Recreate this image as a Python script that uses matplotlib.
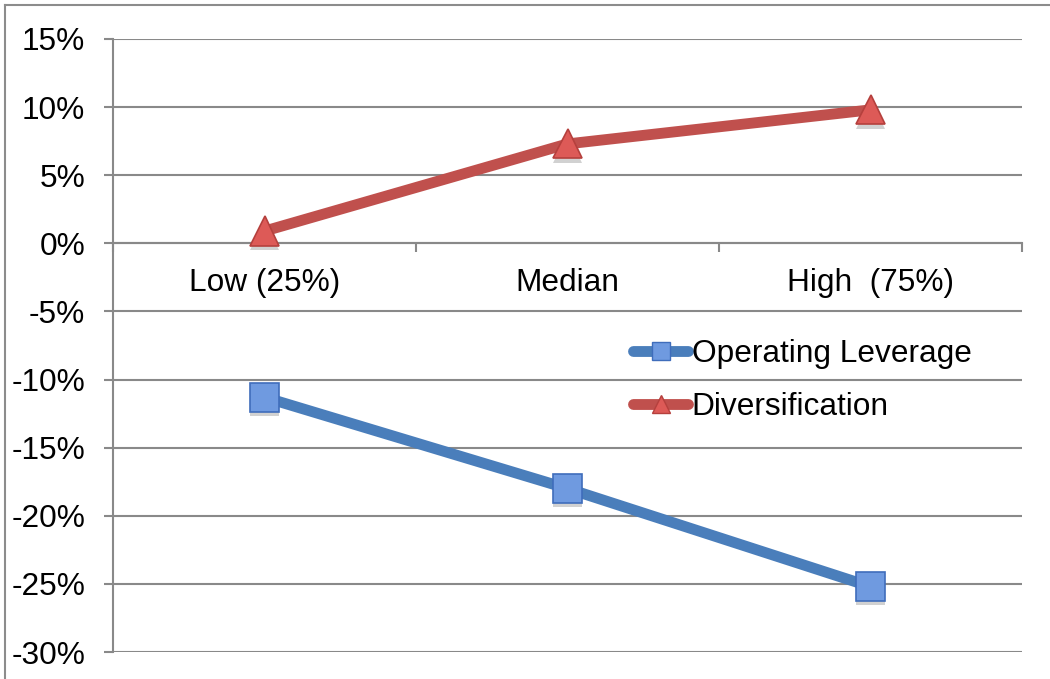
import matplotlib
matplotlib.use("Agg")
import matplotlib.pyplot as plt
from matplotlib.lines import Line2D
import matplotlib.patheffects as pe

# Data
categories = ["Low (25%)", "Median", "High  (75%)"]
operating_leverage = [-11.3, -18.0, -25.2]
diversification = [0.9, 7.3, 9.8]
y_ticks = list(range(-30, 16, 5))

plt.rcParams['font.family'] = ['Liberation Sans', 'DejaVu Sans']

W, H = 1050, 679
fig = plt.figure(figsize=(W / 100, H / 100), dpi=100)
ax = fig.add_axes([113 / W, 1 - 652 / H, (1022 - 113) / W, (652 - 39) / H])

grid_color = '#898989'
blue_line, blue_face, blue_edge = '#4a7ebb', '#6f9ae0', '#3f6dbb'
red_line, red_face, red_edge = '#c0504d', '#dd5a57', '#b5403d'
font_size = 22.8

x = list(range(len(categories)))

shadow = [pe.SimplePatchShadow(offset=(0, -3), shadow_rgbFace='k', alpha=0.18), pe.Normal()]

for vals, lc, mk, fc, ec in [
    (operating_leverage, blue_line, 's', blue_face, blue_edge),
    (diversification, red_line, '^', red_face, red_edge),
]:
    ax.plot(x, vals, color=lc, lw=7.8, solid_capstyle='round', zorder=3)
    ax.plot(x, vals, ls='none', marker=mk, ms=21, mfc=fc, mec=ec, mew=1.2,
            zorder=4, path_effects=shadow)

ax.set_xlim(-0.5, len(categories) - 0.5)
ax.set_ylim(-30, 15)
ax.set_yticks(y_ticks)
ax.set_yticklabels([f"{v}%" for v in y_ticks])
ax.yaxis.grid(True, color=grid_color, lw=1.5)
ax.set_axisbelow(True)

for s in ('top', 'right'):
    ax.spines[s].set_visible(False)
ax.spines['left'].set_color(grid_color)
ax.spines['left'].set_linewidth(1.5)
ax.spines['bottom'].set_position(('data', 0))
ax.spines['bottom'].set_color(grid_color)
ax.spines['bottom'].set_linewidth(1.5)

ax.set_xticks(x)
ax.set_xticklabels(categories)
ax.set_xticks([i - 0.5 for i in range(len(categories) + 1)], minor=True)
ax.tick_params(axis='x', which='major', length=0, pad=18, labelsize=font_size)
ax.tick_params(axis='x', which='minor', length=6.5, width=1.5, color=grid_color, direction='out')
ax.tick_params(axis='y', length=6.5, width=1.5, color=grid_color, pad=13.5, labelsize=font_size)

handles = [
    Line2D([], [], color=blue_line, lw=7.8, solid_capstyle='round', marker='s', ms=13,
           mfc=blue_face, mec=blue_edge, mew=1.0),
    Line2D([], [], color=red_line, lw=7.8, solid_capstyle='round', marker='^', ms=13,
           mfc=red_face, mec=red_edge, mew=1.0),
]
fig.legend(handles, ["Operating Leverage", "Diversification"],
           loc='upper left', bbox_to_anchor=(633 / W, 1 - 339 / H),
           frameon=False, fontsize=font_size, handlelength=1.75, handletextpad=0.1,
           labelspacing=0.72, borderpad=0, borderaxespad=0)

# Outer frame on the left and top edges
frame_kw = dict(color='#8c8c8c', lw=1.5, transform=fig.transFigure)
fig.add_artist(Line2D([5 / W, 5 / W], [0, 1 - 5 / H], **frame_kw))
fig.add_artist(Line2D([5 / W, 1], [1 - 5 / H, 1 - 5 / H], **frame_kw))

fig.savefig("out.png", dpi=100)
